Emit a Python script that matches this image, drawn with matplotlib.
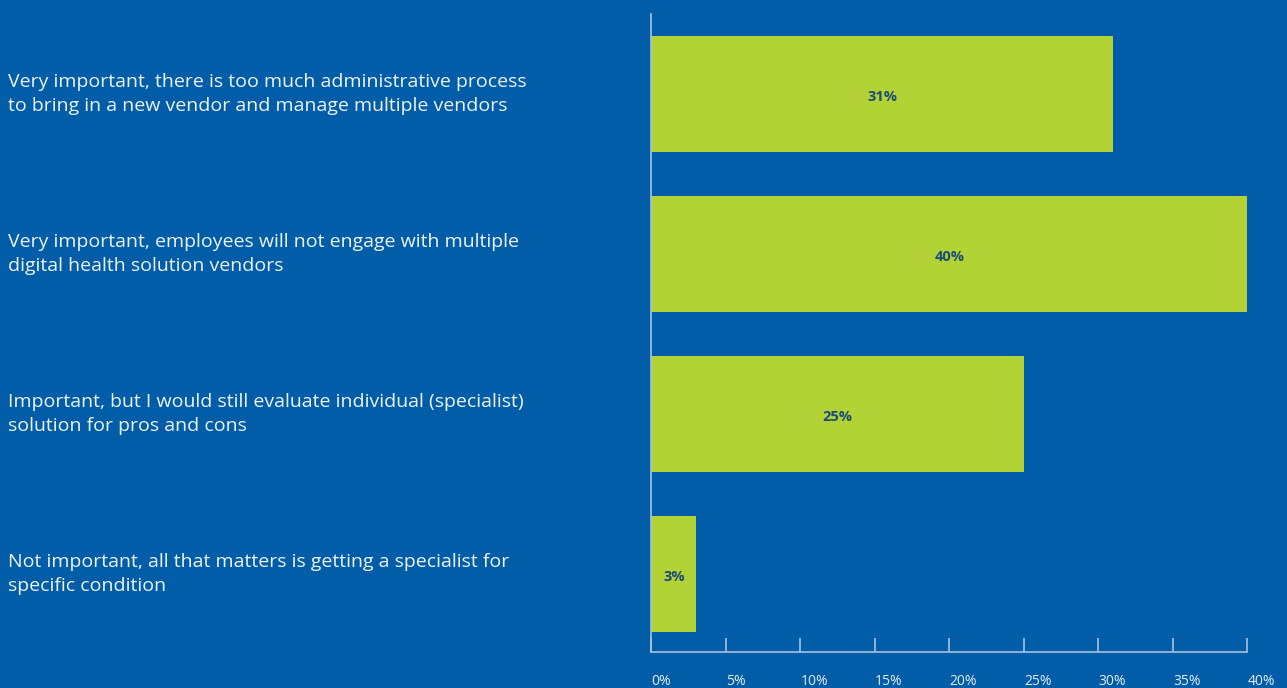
import numpy as np
import matplotlib
matplotlib.use("Agg")
import matplotlib.pyplot as plt
from matplotlib.transforms import blended_transform_factory

# survey answers, top to bottom
answers = [
    "Very important, there is too much administrative process\nto bring in a new vendor and manage multiple vendors",
    "Very important, employees will not engage with multiple\ndigital health solution vendors",
    "Important, but I would still evaluate individual (specialist)\nsolution for pros and cons",
    "Not important, all that matters is getting a specialist for\nspecific condition",
]
shares = [31, 40, 25, 3]
x_ticks = [0, 5, 10, 15, 20, 25, 30, 35, 40]
x_tick_labels = ["0%", "5%", "10%", "15%", "20%", "25%", "30%", "35%", "40%"]

bg = "#015da8"
bar_color = "#b2d235"
axis_color = "#a9c1dc"

plt.rcParams["font.family"] = ["Open Sans", "DejaVu Sans"]

fig = plt.figure(figsize=(12.87, 6.88), dpi=100)
fig.patch.set_facecolor(bg)
ax = fig.add_axes([0.5062, 0.0523, 0.4631, 0.9274])
ax.set_facecolor(bg)

y = np.arange(len(answers))
ax.barh(y, shares, height=0.725, color=bar_color)
for yi, v in zip(y, shares):
    ax.text(v / 2, yi + 0.02, f"{v}%", ha="center", va="center",
            fontsize=10.5, fontweight="bold", color="#1d4b78")

ax.set_ylim(3.49, -0.5)
ax.set_xlim(0, 40)

# category labels sit at the left edge of the figure, level with their bars
lab_trans = blended_transform_factory(fig.transFigure, ax.transData)
for yi, lab in zip(y, answers):
    ax.text(8 / 1287, yi, lab, transform=lab_trans, ha="left", va="center",
            fontsize=14, color="#eef3f8", linespacing=1.45)

ax.set_yticks([])
ax.set_xticks(x_ticks)
ax.set_xticklabels(x_tick_labels, ha="left")
ax.tick_params(axis="x", direction="in", length=10, width=1.2,
               color=axis_color, labelcolor="#e6edf5", labelsize=10, pad=16)

for side in ["top", "right"]:
    ax.spines[side].set_visible(False)
for side in ["left", "bottom"]:
    ax.spines[side].set_color(axis_color)
    ax.spines[side].set_linewidth(1.2)

fig.savefig("out.png", dpi=100, facecolor=bg)
